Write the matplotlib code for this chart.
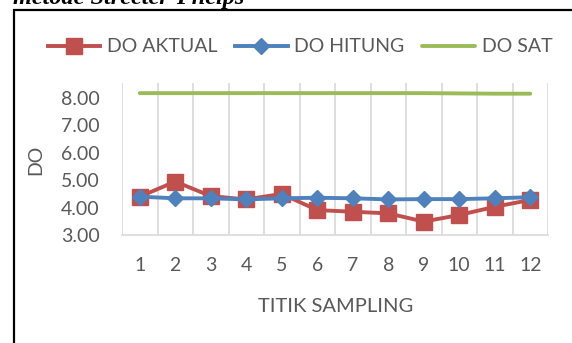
import matplotlib.pyplot as plt
from matplotlib.patches import Rectangle

# Data
titik = [1, 2, 3, 4, 5, 6, 7, 8, 9, 10, 11, 12]
do_aktual = [4.40, 4.95, 4.42, 4.30, 4.50, 3.91, 3.85, 3.79, 3.49, 3.73, 4.03, 4.28]
do_hitung = [4.40, 4.34, 4.34, 4.30, 4.34, 4.36, 4.34, 4.30, 4.31, 4.31, 4.34, 4.38]
do_sat = [8.18, 8.18, 8.18, 8.18, 8.18, 8.18, 8.18, 8.18, 8.18, 8.17, 8.16, 8.16]
y_ticks = [3, 4, 5, 6, 7, 8]

W, H = 572, 343
plt.rcParams['font.family'] = ['Lato', 'DejaVu Sans']
gray = '#595959'

fig = plt.figure(figsize=(W / 100, H / 100), dpi=100)
ax = fig.add_axes([122 / W, 1 - 235 / H, (548 - 122) / W, (235 - 83) / H])

ax.plot(titik, do_aktual, color='#C0504D', lw=2.8, marker='s', ms=12,
        label='DO AKTUAL', zorder=3)
ax.plot(titik, do_hitung, color='#4F81BD', lw=2.8, marker='D', ms=8.5,
        label='DO HITUNG', zorder=4)
ax.plot(titik, do_sat, color='#9BBB59', lw=2.8, solid_capstyle='round',
        label='DO SAT', zorder=2)

ax.set_xlim(0.5, 12.5)
ax.set_ylim(3, 8.55)
ax.set_xticks(titik)
ax.set_xticks([t + 0.5 for t in [0] + titik], minor=True)
ax.set_yticks(y_ticks)
ax.set_yticklabels(['%.2f' % v for v in y_ticks])
ax.grid(True, which='minor', axis='x', color='#d9d9d9', lw=1.2)
ax.tick_params(which='both', length=0, colors=gray, labelsize=14)
ax.tick_params(axis='x', pad=16)
ax.tick_params(axis='y', pad=16)
for s in ['top', 'right', 'left']:
    ax.spines[s].set_visible(False)
ax.spines['bottom'].set_color('#d9d9d9')
ax.spines['bottom'].set_linewidth(1.2)

fig.text(36 / W, 1 - 160 / H, 'DO', rotation=90, ha='center', va='center',
         color=gray, fontsize=14)
fig.text(336 / W, 1 - 306 / H, 'TITIK SAMPLING', ha='center', va='center',
         color=gray, fontsize=14.5)

leg = fig.legend(loc='center', bbox_to_anchor=(300 / W, 1 - 47 / H), ncol=3,
                 frameon=False, fontsize=14, handlelength=2.7,
                 handletextpad=0.35, columnspacing=0.9, labelcolor=gray)

# chart frame and cut-off caption
fig.patches.append(Rectangle((13.5 / W, -0.1), 1.2, 1 - 10 / H + 0.1,
                             transform=fig.transFigure, fill=False,
                             edgecolor='black', lw=1.6))
fig.text(13 / W, 1 - 4 / H, 'metode Streeter-Phelps', ha='left', va='baseline',
         family='Liberation Serif', weight='bold', style='italic', fontsize=17.5)

fig.savefig('out.png', dpi=100)
